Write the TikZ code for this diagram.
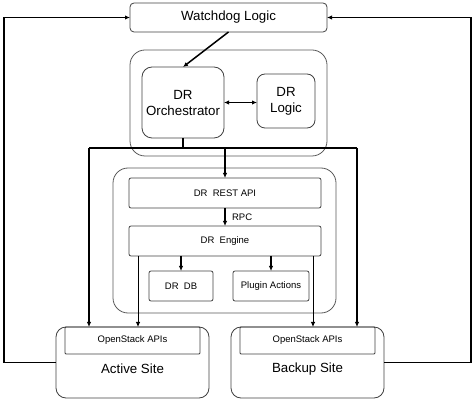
\documentclass[tikz,border=0pt]{standalone}
\usepackage{fontspec}
\setmainfont{Liberation Sans}
\usetikzlibrary{arrows.meta}

\begin{document}
\begin{tikzpicture}[
    x=1pt, y=-1pt,
    box/.style={draw=black!75, line width=0.8pt, rounded corners=2pt, inner sep=0pt, outer sep=0pt, align=center, font=\fontsize{9.5}{11}\selectfont},
    bigbox/.style={box, rounded corners=9pt, font=\fontsize{13.3}{16}\selectfont},
    group/.style={draw=black!65, line width=0.8pt, rounded corners=15pt, inner sep=0pt, outer sep=0pt},
    site/.style={draw=black!75, line width=0.8pt, rounded corners=10pt, inner sep=0pt, outer sep=0pt},
    arrow/.style={-{Latex[length=5pt,width=4.5pt]}, line width=1.5pt},
    thin/.style={-{Latex[length=5pt,width=4.5pt]}, line width=0.8pt}
]
\useasboundingbox (0,0) rectangle (474,403);

\node[group, minimum width=197pt, minimum height=106pt] (orchgrp) at (228.5,103) {};
\node[group, minimum width=223pt, minimum height=145pt] (enggrp) at (224.5,240.5) {};

\node[box, minimum width=197pt, minimum height=29pt, rounded corners=4pt, font=\fontsize{13.3}{16}\selectfont] (watchdog) at (228.5,17.5) {Watchdog Logic};
\node[bigbox, minimum width=82pt, minimum height=71pt, rounded corners=10pt] (orch) at (183,102.5) {DR\\Orchestrator};
\node[bigbox, minimum width=58pt, minimum height=54pt, rounded corners=8pt] (logic) at (286,101) {DR\\Logic};

\node[box, minimum width=192pt, minimum height=30pt] (restapi) at (225,193) {DR\ \ REST API};
\node[box, minimum width=192pt, minimum height=30pt] (engine) at (225,241) {DR\ \ Engine};
\node[box, minimum width=64pt, minimum height=30pt] (db) at (181,286) {DR\ \ DB};
\node[box, minimum width=76pt, minimum height=30pt] (plugin) at (271,286) {Plugin Actions};

\node[site, minimum width=153pt, minimum height=71pt] (active) at (132.5,362.5) {};
\node[box, minimum width=135pt, minimum height=27pt, rounded corners=1pt] (activeapi) at (132.5,340.5) {OpenStack APIs};
\node[font=\fontsize{13.3}{16}\selectfont, inner sep=0pt] (activetxt) at (132.5,369) {Active Site};
\node[site, minimum width=153pt, minimum height=71pt] (backup) at (307.5,362.5) {};
\node[box, minimum width=135pt, minimum height=27pt, rounded corners=1pt] (backupapi) at (307.5,340.5) {OpenStack APIs};
\node[font=\fontsize{13.3}{16}\selectfont, inner sep=0pt] (backuptxt) at (307.5,369) {Backup Site};

\coordinate (busL) at (89,148);
\coordinate (busR) at (357,148);

\draw[arrow] (watchdog.south) -- (orch.north);
\draw[{Latex[length=5pt,width=4.5pt]}-{Latex[length=5pt,width=4.5pt]}, line width=1.5pt] (orch.east) -- (orch.east -| logic.west);
\draw[line width=1.5pt] (orch.south) -- (orch.south |- busL);
\draw[line width=1.5pt] (busL) -- (busR);
\draw[arrow] (busL) -- (busL |- active.north);
\draw[arrow] (busR) -- (busR |- backup.north);
\draw[arrow] (restapi.north |- busL) -- (restapi.north);
\draw[arrow] (restapi.south) -- node[right=3pt, font=\fontsize{9.5}{11}\selectfont] (rpc) {RPC} (engine.north);
\draw[arrow] (db.north |- engine.south) -- (db.north);
\draw[arrow] (plugin.north |- engine.south) -- (plugin.north);
\draw[thin] ([xshift=9pt]engine.south west) -- ([xshift=9pt]engine.south west |- activeapi.north);
\draw[thin] ([xshift=-8pt]engine.south east) -- ([xshift=-8pt]engine.south east |- backupapi.north);
\draw[arrow] (active.west) -- ++(-52,0) |- (watchdog.west);
\draw[arrow] (backup.east) -- ++(87,0) |- (watchdog.east);
\end{tikzpicture}
\end{document}
